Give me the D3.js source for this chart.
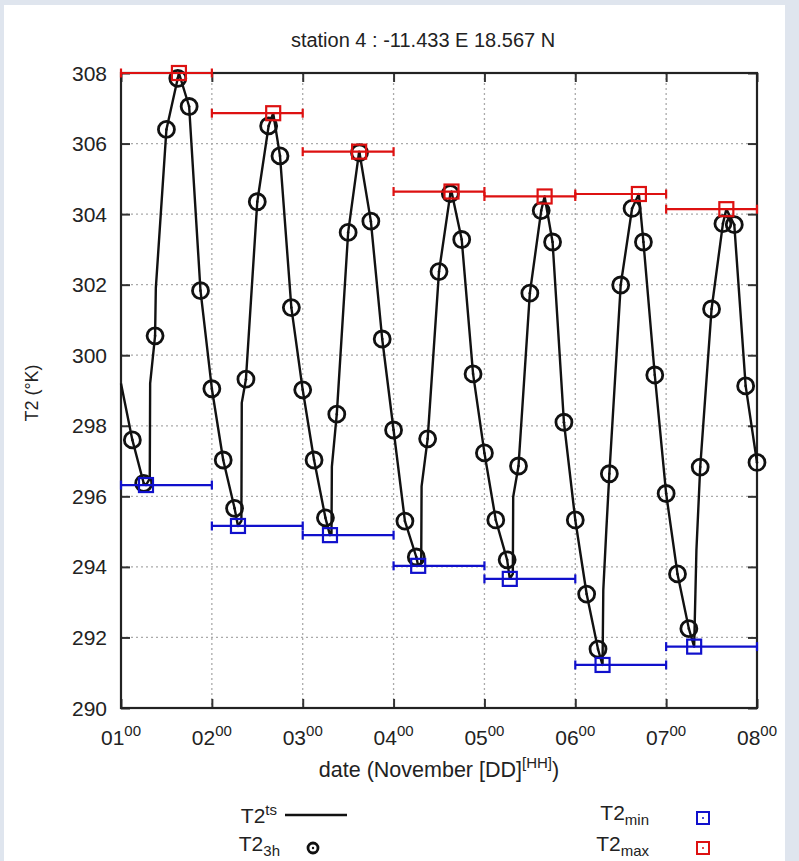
<!DOCTYPE html>
<html>
<head>
<meta charset="utf-8">
<style>
  body { margin: 0; background: #dfe5ee; }
  svg { display: block; }
  text { font-family: "Liberation Sans", Arial, sans-serif; fill: #222; }
</style>
</head>
<body>
<script src="https://cdnjs.cloudflare.com/ajax/libs/d3/7.8.5/d3.min.js"></script>
<svg id="chart" width="799" height="861"></svg>
<script>

// hours since 01 Nov 00h
const hours3h = [3, 6, 9, 12, 15, 18, 21, 24,
  27, 30, 33, 36, 39, 42, 45, 48,
  51, 54, 57, 60, 63, 66, 69, 72,
  75, 78, 81, 84, 87, 90, 93, 96,
  99, 102, 105, 108, 111, 114, 117, 120,
  123, 126, 129, 132, 135, 138, 141, 144,
  147, 150, 153, 156, 159, 162, 165, 168];
const t2_3h = [297.6, 296.37, 300.55, 306.4, 307.85, 307.05, 301.83, 299.05,
  297.03, 295.66, 299.32, 304.35, 306.5, 305.65, 301.35, 299.02,
  297.03, 295.39, 298.33, 303.48, 305.74, 303.8, 300.46, 297.88,
  295.3, 294.28, 297.63, 302.37, 304.58, 303.28, 299.47, 297.23,
  295.33, 294.2, 296.86, 301.76, 304.1, 303.21, 298.1, 295.33,
  293.23, 291.67, 296.64, 301.99, 304.16, 303.21, 299.44, 296.08,
  293.8, 292.25, 296.83, 301.31, 303.73, 303.7, 299.13, 296.96];

const tsHours = [0, 3, 6, 6.6, 7.6, 7.7, 9, 9.2, 12, 15, 15.3, 18, 21, 24,
  27, 30, 30.9, 31.8, 31.9, 33, 36, 39, 40.2, 42, 45, 48,
  51, 54, 55.2, 55.6, 55.7, 57, 60, 62.9, 63, 66, 69, 72,
  75, 78, 78.5, 79.3, 79.4, 81, 84, 87, 87.3, 90, 93, 96,
  99, 102, 102.7, 103.5, 103.6, 105, 108, 111, 111.9, 114, 117, 120,
  123, 126, 127.2, 127.4, 128.2, 129, 132, 135, 136.8, 138, 141, 144,
  147, 150, 151.4, 152.0, 153, 156, 159, 159.9, 162, 165, 168];
const tsValues = [299.2, 297.6, 296.37, 296.32, 296.5, 299.2, 300.55, 301.9, 306.4, 307.85, 308.0, 307.05, 301.83, 299.05,
  297.03, 295.66, 295.16, 295.3, 298.65, 299.32, 304.35, 306.5, 306.86, 305.65, 301.35, 299.02,
  297.03, 295.39, 294.9, 294.95, 296.84, 298.33, 303.48, 305.77, 305.74, 303.8, 300.46, 297.88,
  295.3, 294.28, 294.03, 294.1, 296.28, 297.63, 302.37, 304.58, 304.64, 303.28, 299.47, 297.23,
  295.33, 294.2, 293.66, 293.8, 295.99, 296.86, 301.76, 304.1, 304.5, 303.21, 298.1, 295.33,
  293.23, 291.67, 291.22, 293.35, 295.05, 296.64, 301.99, 304.16, 304.57, 303.21, 299.44, 296.08,
  293.8, 292.25, 291.74, 294.48, 296.83, 301.31, 303.73, 304.14, 303.7, 299.13, 296.96];

// daily extremes: day start hour, hour of extreme, value
const dayStart = [0, 24, 48, 72, 96, 120, 144];
const minHours = [6.6, 30.9, 55.2, 78.5, 102.7, 127.2, 151.4];
const minValues = [296.32, 295.16, 294.9, 294.03, 293.66, 291.22, 291.74];
const maxHours = [15.3, 40.2, 62.9, 87.3, 111.9, 136.8, 159.9];
const maxValues = [308.0, 306.86, 305.77, 304.64, 304.5, 304.57, 304.14];

const dayLabels = ['01', '02', '03', '04', '05', '06', '07', '08'];
const dayTicks = [0, 24, 48, 72, 96, 120, 144, 168];
const yTicks = [290, 292, 294, 296, 298, 300, 302, 304, 306, 308];

const svg = d3.select('#chart');
svg.append('rect').attr('x', 4).attr('y', 5).attr('width', 781).attr('height', 856).attr('fill', '#fff');

const pL = 121, pR = 757, pT = 73, pB = 708;
const x = d3.scaleLinear().domain([0, 168]).range([pL, pR]);
const y = d3.scaleLinear().domain([290, 308]).range([pB, pT]);

// grid
const grid = svg.append('g').attr('stroke', '#aaa').attr('stroke-width', 1.3).attr('stroke-dasharray', '2,3');
grid.selectAll('.gx').data(dayTicks.slice(1, -1)).enter().append('line')
  .attr('x1', d => x(d)).attr('x2', d => x(d)).attr('y1', pT).attr('y2', pB);
grid.selectAll('.gy').data(yTicks.slice(1, -1)).enter().append('line')
  .attr('x1', pL).attr('x2', pR).attr('y1', d => y(d)).attr('y2', d => y(d));

// axes (ticks pointing inward, mirrored)
const axisL = svg.append('g').attr('transform', `translate(${pL},0)`)
  .call(d3.axisRight(y).tickValues(yTicks).tickSize(9).tickFormat(''));
const axisR = svg.append('g').attr('transform', `translate(${pR},0)`)
  .call(d3.axisLeft(y).tickValues(yTicks).tickSize(9).tickFormat(''));
const axisB = svg.append('g').attr('transform', `translate(0,${pB})`)
  .call(d3.axisTop(x).tickValues(dayTicks).tickSize(9).tickFormat(''));
const axisT = svg.append('g').attr('transform', `translate(0,${pT})`)
  .call(d3.axisBottom(x).tickValues(dayTicks).tickSize(9).tickFormat(''));
[axisL, axisR, axisB, axisT].forEach(a => {
  a.select('.domain').remove();
  a.selectAll('line').attr('stroke', '#333').attr('stroke-width', 2);
});
svg.append('rect').attr('x', pL).attr('y', pT).attr('width', pR - pL).attr('height', pB - pT)
  .attr('fill', 'none').attr('stroke', '#222').attr('stroke-width', 2.2);

// y tick labels
svg.append('g').selectAll('text').data(yTicks).enter().append('text')
  .attr('x', 107).attr('y', d => y(d) + 7.5).attr('text-anchor', 'end')
  .attr('font-size', 21).text(d => d);

// x tick labels with superscript hour
const xl = svg.append('g').selectAll('text').data(dayTicks).enter().append('text')
  .attr('x', d => x(d)).attr('y', 745).attr('text-anchor', 'middle').attr('font-size', 21);
xl.append('tspan').text((d, i) => dayLabels[i]);
xl.append('tspan').attr('dy', -9).attr('font-size', 15).text('00');

// titles
svg.append('text').attr('x', 423).attr('y', 47).attr('text-anchor', 'middle').attr('font-size', 20)
  .text('station 4 : -11.433 E 18.567 N');
const xt = svg.append('text').attr('x', 439).attr('y', 777).attr('text-anchor', 'middle').attr('font-size', 21.5);
xt.append('tspan').text('date (November [DD]');
xt.append('tspan').attr('dy', -9).attr('font-size', 15).text('[HH]');
xt.append('tspan').attr('dy', 9).text(')');
svg.append('text').attr('transform', 'translate(38,393) rotate(-90)').attr('text-anchor', 'middle')
  .attr('font-size', 18).text('T2 (°K)');

// time series line
const line = d3.line().x(d => x(d[0])).y(d => y(d[1]));
svg.append('path').datum(tsHours.map((h, i) => [h, tsValues[i]]))
  .attr('d', line).attr('fill', 'none').attr('stroke', '#111').attr('stroke-width', 2.4)
  .attr('stroke-linejoin', 'round');

// 3h points
const pts = svg.append('g').selectAll('g').data(hours3h.map((h, i) => [h, t2_3h[i]])).enter().append('g')
  .attr('transform', d => `translate(${x(d[0])},${y(d[1])})`);
pts.append('circle').attr('r', 8).attr('fill', 'none').attr('stroke', '#111').attr('stroke-width', 2.8);
pts.append('circle').attr('r', 1.3).attr('fill', '#111');

// daily extremes with horizontal error bars
function extremes(hours, values, color) {
  const g = svg.append('g').attr('stroke', color).attr('fill', 'none').attr('stroke-width', 2.2);
  const data = hours.map((h, i) => ({ h: h, v: values[i], s: dayStart[i] }));
  g.selectAll('.bar').data(data).enter().append('line')
    .attr('x1', d => x(d.s)).attr('x2', d => x(d.s + 24)).attr('y1', d => y(d.v)).attr('y2', d => y(d.v));
  g.selectAll('.capl').data(data).enter().append('line')
    .attr('x1', d => x(d.s)).attr('x2', d => x(d.s)).attr('y1', d => y(d.v) - 4.5).attr('y2', d => y(d.v) + 4.5);
  g.selectAll('.capr').data(data).enter().append('line')
    .attr('x1', d => x(d.s + 24)).attr('x2', d => x(d.s + 24)).attr('y1', d => y(d.v) - 4.5).attr('y2', d => y(d.v) + 4.5);
  g.selectAll('rect').data(data).enter().append('rect')
    .attr('x', d => x(d.h) - 7).attr('y', d => y(d.v) - 7).attr('width', 14).attr('height', 14);
}
extremes(minHours, minValues, '#1010cc');
extremes(maxHours, maxValues, '#dd1111');

// legend
const leg = svg.append('g').attr('font-size', 21);
const l1 = leg.append('text').attr('x', 277).attr('y', 823).attr('text-anchor', 'end');
l1.append('tspan').text('T2');
l1.append('tspan').attr('dy', -8).attr('font-size', 15).text('ts');
leg.append('line').attr('x1', 285).attr('x2', 347).attr('y1', 815).attr('y2', 815)
  .attr('stroke', '#111').attr('stroke-width', 2.6);
const l2 = leg.append('text').attr('x', 280).attr('y', 851).attr('text-anchor', 'end');
l2.append('tspan').text('T2');
l2.append('tspan').attr('dy', 5).attr('font-size', 15).text('3h');
leg.append('circle').attr('cx', 313).attr('cy', 848).attr('r', 5).attr('fill', 'none')
  .attr('stroke', '#111').attr('stroke-width', 2.8);
leg.append('circle').attr('cx', 313).attr('cy', 848).attr('r', 1.2).attr('fill', '#111');

const l3 = leg.append('text').attr('x', 649).attr('y', 820).attr('text-anchor', 'end');
l3.append('tspan').text('T2');
l3.append('tspan').attr('dy', 5).attr('font-size', 15).text('min');
const l4 = leg.append('text').attr('x', 649).attr('y', 851).attr('text-anchor', 'end');
l4.append('tspan').text('T2');
l4.append('tspan').attr('dy', 5).attr('font-size', 15).text('max');
[['#1010cc', 818], ['#dd1111', 848]].forEach(([c, cy]) => {
  leg.append('rect').attr('x', 697).attr('y', cy - 6).attr('width', 12).attr('height', 12)
    .attr('fill', 'none').attr('stroke', c).attr('stroke-width', 2);
  leg.append('circle').attr('cx', 703).attr('cy', cy).attr('r', 1).attr('fill', c);
});

</script>
</body>
</html>
